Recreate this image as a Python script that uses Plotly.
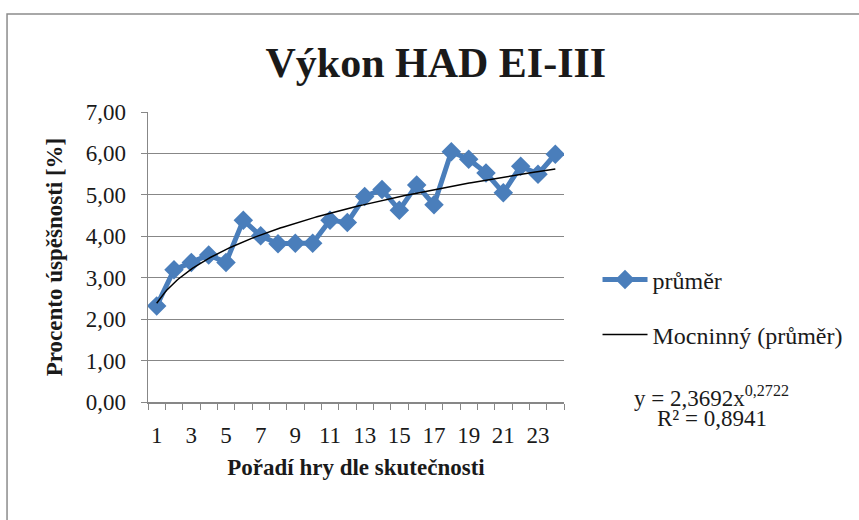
import numpy as np
import plotly.graph_objects as go

# ---- data ----
games = list(range(1, 25))
prumer = [2.32, 3.19, 3.37, 3.55, 3.37, 4.39, 4.01, 3.82, 3.83, 3.83, 4.39, 4.33,
          4.96, 5.13, 4.63, 5.24, 4.76, 6.04, 5.86, 5.53, 5.05, 5.69, 5.50, 5.98]
x_tick_vals = [1, 3, 5, 7, 9, 11, 13, 15, 17, 19, 21, 23]
x_tick_text = [str(v) for v in x_tick_vals]
y_tick_vals = [0, 1, 2, 3, 4, 5, 6, 7]

title_text = "Výkon HAD EI-III"
series_name = "průměr"
trend_name = "Mocninný (průměr)"
eq_text = "y = 2,3692x<sup>0,2722</sup>"
r2_text = "R² = 0,8941"

# power trendline fitted in log-log space (as Excel does)
b, ln_a = np.polyfit(np.log(games), np.log(prumer), 1)
xs = np.linspace(1, 24, 200)
trend = np.exp(ln_a) * xs ** b

FONT = "Liberation Serif, Times New Roman, serif"
BLUE = "#4A7EBB"
GRID = "#878787"
TXT = "#1a1a1a"

W, H = 859, 520
PL, PR, PT, PB = 148, 570, 112, 402  # plot area in window pixels
L, R, T, B = PL, W - PR, PT, H - PB
pw, ph = PR - PL, PB - PT

def px(x):
    return (x - PL) / pw

def py(y):
    return (PB - y) / ph

fig = go.Figure()
fig.add_trace(go.Scatter(
    x=games, y=prumer, mode="lines+markers", name=series_name,
    line=dict(color=BLUE, width=5),
    marker=dict(symbol="diamond", size=15, color=BLUE),
    legend="legend",
))
fig.add_trace(go.Scatter(
    x=xs, y=trend, mode="lines", name=trend_name,
    line=dict(color="black", width=1.5),
    legend="legend2",
))

fig.update_layout(
    width=W, height=H,
    margin=dict(l=L, r=R, t=T, b=B, pad=0),
    paper_bgcolor="white", plot_bgcolor="white",
    separators=", ",
    font=dict(family=FONT, size=23, color=TXT),
    title=dict(text="<b>" + title_text + "</b>", x=px(440), xref="paper", xanchor="center",
               y=1 - 62 / H, yanchor="middle",
               font=dict(family=FONT, size=42, color=TXT)),
    xaxis=dict(
        range=[0.5, 24.5], tickmode="array", tickvals=x_tick_vals, ticktext=x_tick_text,
        ticks="", showgrid=False, showline=True, linecolor=GRID, linewidth=1.5,
        tickfont=dict(size=23), ticklabelstandoff=12,
        minor=dict(tickmode="linear", tick0=0.5, dtick=1, ticks="outside", ticklen=6,
                   tickcolor=GRID, tickwidth=1, showgrid=False),
        title=dict(text="<b>Pořadí hry dle skutečnosti</b>", font=dict(size=23), standoff=12),
        zeroline=False, fixedrange=True,
    ),
    yaxis=dict(
        range=[0, 7], tickmode="array", tickvals=y_tick_vals, tickformat=".2f",
        ticks="outside", ticklen=6, tickcolor=GRID, tickwidth=1,
        showgrid=True, gridcolor=GRID, gridwidth=1,
        showline=True, linecolor=GRID, linewidth=1.5,
        tickfont=dict(size=23), ticklabelstandoff=10,
        title=dict(text="<b>Procento úspěšnosti [%]</b>", font=dict(size=23), standoff=16),
        zeroline=False, fixedrange=True,
    ),
    legend=dict(x=px(604), y=py(280), xanchor="left", yanchor="middle",
                bgcolor="rgba(0,0,0,0)", font=dict(size=24), itemwidth=45),
    legend2=dict(x=px(604), y=py(335), xanchor="left", yanchor="middle",
                 bgcolor="rgba(0,0,0,0)", font=dict(size=24), itemwidth=45),
    showlegend=True,
)

# chart frame (extends beyond the visible crop)
fig.add_shape(type="rect", xref="paper", yref="paper",
              x0=px(5), x1=px(880), y0=py(540), y1=py(14),
              line=dict(color="#8c8c8c", width=1.5), fillcolor="rgba(0,0,0,0)", layer="below")

fig.add_annotation(text=eq_text, xref="paper", yref="paper", x=px(720), y=py(396),
                   showarrow=False, xanchor="center", yanchor="middle", font=dict(size=23))
fig.add_annotation(text=r2_text, xref="paper", yref="paper", x=px(720), y=py(418),
                   showarrow=False, xanchor="center", yanchor="middle", font=dict(size=23))

fig.write_html(
    "out.html",
    config={"displayModeBar": False, "staticPlot": True},
    post_script="document.body.style.margin='0';document.body.style.padding='0';"
                "document.body.style.overflow='hidden';",
)
